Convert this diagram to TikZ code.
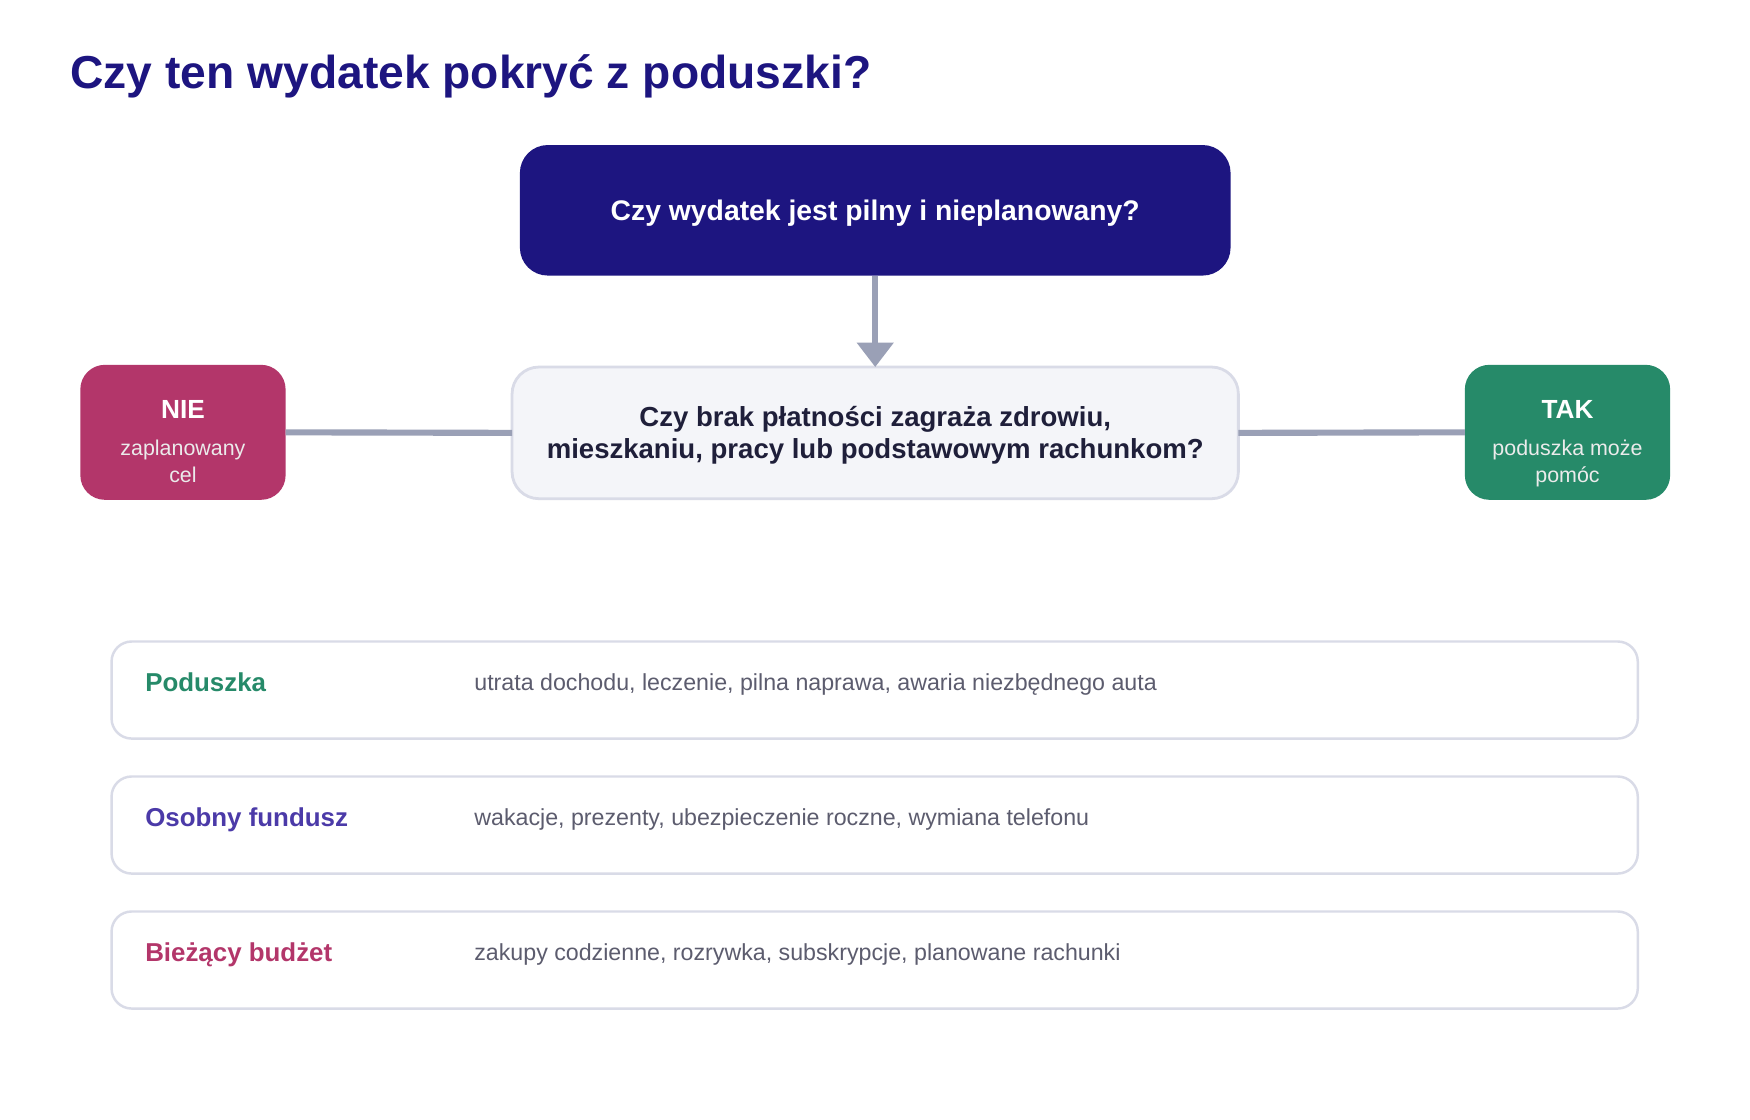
\documentclass[tikz,border=0pt]{standalone}
\usepackage{fontspec}
\setmainfont{Liberation Sans}
\usetikzlibrary{arrows.meta}
\definecolor{indigo}{HTML}{1D1580}
\definecolor{conncol}{HTML}{9AA0B6}
\definecolor{midfill}{HTML}{F4F5F9}
\definecolor{bordercol}{HTML}{D9DBE7}
\definecolor{darktext}{HTML}{1F1F3A}
\definecolor{magentacol}{HTML}{B3366A}
\definecolor{greencol}{HTML}{268A69}
\definecolor{purplecol}{HTML}{4B3AA8}
\definecolor{desccol}{HTML}{5C5C6E}
\newcommand{\fsz}[2]{\fontsize{#1}{#2}\selectfont}
\begin{document}
\begin{tikzpicture}[x=1pt,y=-1pt,
  box/.style={rectangle, inner sep=0pt, outer sep=0pt},
  conn/.style={draw=conncol, line width=5.5pt},
  rowbox/.style={box, draw=bordercol, line width=2.2pt, fill=white, rounded corners=18pt, minimum width=1368pt, minimum height=87pt},
  sidebox/.style={box, rounded corners=22pt, minimum width=184pt, minimum height=121pt},
  headtxt/.style={font=\fsz{23.5}{28}\bfseries, text=white, anchor=base, inner sep=0pt},
  subtxt/.style={font=\fsz{19.2}{24}, text=white!92!black, anchor=base, inner sep=0pt},
  lbl/.style={font=\fsz{23.2}{28}\bfseries, anchor=base west, inner sep=0pt},
  desc/.style={font=\fsz{20.8}{26}, text=desccol, anchor=base west, inner sep=0pt}
]
\useasboundingbox (0,0) rectangle (1568.6,1003.9);
\fill[white] (0,0) rectangle (1568.6,1003.9);

% title
\node[font=\fsz{41.4}{48}\bfseries, text=indigo, anchor=base west, inner sep=0pt] (title) at (63,79) {Czy ten wydatek pokryć z poduszki?};

% question 1
\node[box, fill=indigo, rounded corners=25pt, minimum width=637pt, minimum height=117pt] (q1) at (784.5,188.5) {};
\node[font=\fsz{25.4}{29}\bfseries, text=white, anchor=base, inner sep=0pt] (q1t) at (784.5,197.5) {Czy wydatek jest pilny i nieplanowany?};

% question 2
\node[box, fill=midfill, draw=bordercol, line width=2.5pt, rounded corners=24pt, minimum width=651pt, minimum height=118pt] (q2) at (784.5,388) {};
\node[font=\fsz{24.7}{29}\bfseries, text=darktext, anchor=base, inner sep=0pt] (q2a) at (784.5,382) {Czy brak płatności zagraża zdrowiu,};
\node[font=\fsz{24.7}{29}\bfseries, text=darktext, anchor=base, inner sep=0pt] (q2b) at (784.5,411) {mieszkaniu, pracy lub podstawowym rachunkom?};

% side boxes
\node[sidebox, fill=magentacol] (nie) at (164,387.5) {};
\node[headtxt] (niet) at (164,375.5) {NIE};
\node[subtxt] (nies1) at (164,408.5) {zaplanowany};
\node[subtxt] (nies2) at (164,432.5) {cel};

\node[sidebox, fill=greencol] (tak) at (1405,387.5) {};
\node[headtxt] (takt) at (1405,375.5) {TAK};
\node[subtxt] (taks1) at (1405,408.5) {poduszka może};
\node[subtxt] (taks2) at (1405,432.5) {pomóc};

% connectors
\draw[conn, -{Triangle[width=32pt,length=22pt]}] (q1.south) -- (q2.north);
\draw[conn] (nie.east) -- (q2.west);
\draw[conn] (q2.east) -- (tak.west);

% rows
\node[rowbox] (r1) at (784,618.5) {};
\node[lbl, text=greencol] (r1l) at (130,620) {Poduszka};
\node[desc] (r1d) at (425,619) {utrata dochodu, leczenie, pilna naprawa, awaria niezbędnego auta};

\node[rowbox] (r2) at (784,739.5) {};
\node[lbl, text=purplecol] (r2l) at (130,741) {Osobny fundusz};
\node[desc] (r2d) at (425,740) {wakacje, prezenty, ubezpieczenie roczne, wymiana telefonu};

\node[rowbox] (r3) at (784,860.5) {};
\node[lbl, text=magentacol] (r3l) at (130,862) {Bieżący budżet};
\node[desc] (r3d) at (425,861) {zakupy codzienne, rozrywka, subskrypcje, planowane rachunki};
\end{tikzpicture}
\end{document}
